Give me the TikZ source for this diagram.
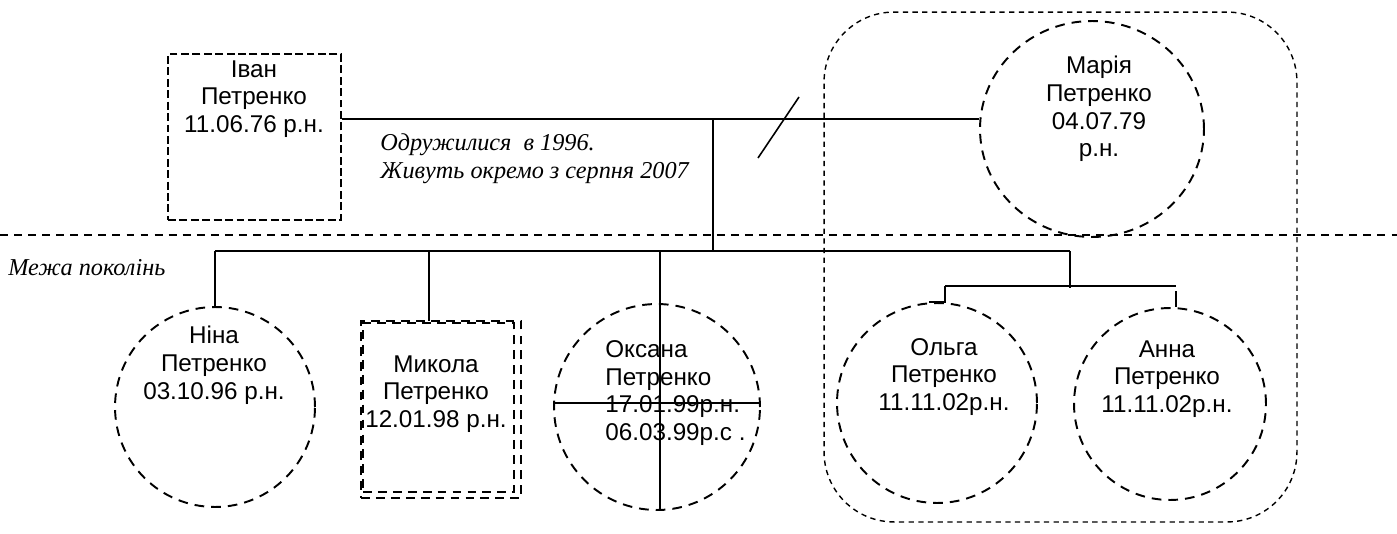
\documentclass[tikz,border=0pt]{standalone}
\usepackage{fontspec}
\setmainfont{Liberation Sans}
\newfontfamily\serifit{Liberation Serif}
\usetikzlibrary{shapes.geometric}
\tikzset{
  person/.style={circle, draw, dash pattern=on 5.5pt off 4pt, line width=1.1pt, inner sep=0pt},
  ptext/.style={align=center, font=\fontsize{13.8}{15.8}\selectfont, inner sep=0pt},
  ltext/.style={align=left, font=\fontsize{13.8}{15.8}\selectfont, inner sep=0pt},
  itext/.style={align=left, font=\serifit\itshape\fontsize{13.8}{15.6}\selectfont, inner sep=0pt},
  link/.style={line width=0.9pt},
  malebox/.style={draw, rectangle, dash pattern=on 4.5pt off 2pt, line width=1.4pt, inner sep=0pt},
  malebox2/.style={draw, rectangle, dash pattern=on 5pt off 3.5pt, line width=1.1pt, inner sep=0pt},
  household/.style={draw, rectangle, rounded corners=1.4cm, dash pattern=on 3pt off 2.5pt, line width=0.8pt, inner sep=0pt},
  genline/.style={dash pattern=on 4.5pt off 3.5pt, line width=0.9pt}
}
\begin{document}
\begin{tikzpicture}[x=0.02cm, y=-0.02cm]
\useasboundingbox (0,0) rectangle (1397,534);

% household of Maria
\node[household, minimum width=9.46cm, minimum height=10.2cm] (house) at (1060.5,267) {};

% generation line
\coordinate (genL) at (0,235);
\coordinate (genR) at (1397,235);
\draw[genline] (genL) -- (genR);
\node[itext, anchor=west] (genlabel) at (8,268) {Межа поколінь};

% parents
\node[malebox, minimum width=3.46cm, minimum height=3.32cm] (ivan) at (254.5,137) {};
\node[ptext] (ivant) at (254,99) {Іван\\Петренко\\11.06.76 р.н.};

\node[person, ellipse, minimum width=4.48cm, minimum height=4.32cm] (maria) at (1092,129) {};
\node[ptext] (mariat) at (1099,109) {Марія\\Петренко\\04.07.79\\р.н.};

\node[itext, anchor=west] (marriage) at (380,158.5) {Одружилися \ в 1996.\\Живуть окремо з серпня 2007};

% marriage line
\coordinate (mj) at (713,119);
\draw[link] (ivan.east |- mj) -- (mj) -- (maria.west |- mj);
\coordinate (sl1) at (758,158);
\coordinate (sl2) at (799,97);
\draw[link] (sl1) -- (sl2);

% children bar
\coordinate (cj) at (713,251);
\coordinate (tj) at (1070,251);
\draw[link] (mj) -- (cj);

% children
\node[person, minimum size=4cm] (nina) at (215,407) {};
\node[ptext] (ninat) at (214,365) {Ніна\\Петренко\\03.10.96 р.н.};

\node[malebox2, minimum width=3.2cm, minimum height=3.54cm] (mykA) at (441,409.5) {};
\node[malebox2, minimum width=3.02cm, minimum height=3.38cm] (mykB) at (438.5,407.5) {};
\node[ptext] (mykt) at (436,394) {Микола\\Петренко\\12.01.98 р.н.};

\node[person, minimum size=4.12cm] (oks) at (657,407) {};
\node[ltext, anchor=west] (okst) at (605,393) {Оксана\\Петренко\\17.01.99р.н.\\06.03.99р.с .};

\node[person, minimum size=4cm] (olga) at (937,403) {};
\node[ptext] (olgat) at (944,377) {Ольга\\Петренко\\11.11.02р.н.};

\node[person, minimum size=3.84cm] (anna) at (1170,404) {};
\node[ptext] (annat) at (1167,379) {Анна\\Петренко\\11.11.02р.н.};

\draw[link] (nina.north |- cj) -- (tj);
\draw[link] (nina.north |- cj) -- (nina.north);
\coordinate (mykTop) at (429,321);
\draw[link] (mykTop |- cj) -- (mykTop);
\coordinate (oksBot) at (660,510);
\draw[link] (oksBot |- cj) -- (oksBot) -- ++(4,0);
\draw[link] ([yshift=0.08cm]oks.west) -- ([yshift=0.08cm]oks.east);

% twins
\coordinate (tw) at (1070,288);
\coordinate (tl) at (945,286);
\coordinate (tr) at (1176,286);
\coordinate (trg) at (1176,291);
\draw[link] (tj) -- (tw);
\draw[link] (tl) -- (tr);
\draw[link] (tl) -- (tl |- olga.north) -- ++(-16,0);
\draw[link] (trg) -- (trg |- anna.north);
\end{tikzpicture}
\end{document}
